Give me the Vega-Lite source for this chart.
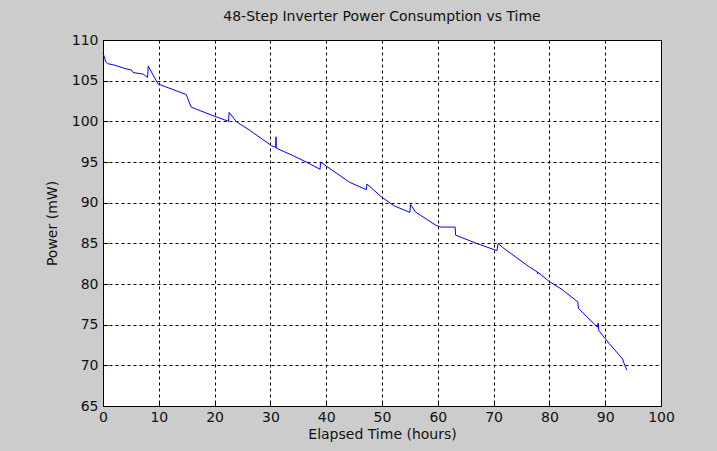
{
  "$schema": "https://vega.github.io/schema/vega-lite/v6.json",
  "width": 558,
  "height": 366,
  "autosize": "none",
  "padding": {"left": 103, "top": 40, "right": 56, "bottom": 45},
  "background": "#cccccc",
  "view": {"fill": "white", "stroke": "black", "strokeWidth": 1},
  "title": {
    "text": "48-Step Inverter Power Consumption vs Time",
    "font": "DejaVu Sans",
    "fontSize": 14,
    "fontWeight": "normal",
    "color": "#111111",
    "offset": 9
  },
  "data": {
    "values": [
      {"t": 0, "p": 108.4},
      {"t": 0.5, "p": 107.3},
      {"t": 0.8, "p": 107.1},
      {"t": 2.1, "p": 106.9},
      {"t": 3.9, "p": 106.5},
      {"t": 5.1, "p": 106.3},
      {"t": 5.4, "p": 106.0},
      {"t": 7.2, "p": 105.8},
      {"t": 8.0, "p": 105.4},
      {"t": 8.1, "p": 106.8},
      {"t": 9.85, "p": 104.6},
      {"t": 14.9, "p": 103.3},
      {"t": 15.8, "p": 101.75},
      {"t": 16.7, "p": 101.5},
      {"t": 19.7, "p": 100.7},
      {"t": 22.5, "p": 100.0},
      {"t": 22.6, "p": 101.1},
      {"t": 23.9, "p": 99.95},
      {"t": 26.3, "p": 98.9},
      {"t": 30.2, "p": 97.0},
      {"t": 30.95, "p": 96.8},
      {"t": 31.0, "p": 98.1},
      {"t": 31.05, "p": 96.7},
      {"t": 34.0, "p": 95.8},
      {"t": 36.7, "p": 94.9},
      {"t": 38.9, "p": 94.1},
      {"t": 39.0, "p": 95.0},
      {"t": 39.8, "p": 94.6},
      {"t": 44.2, "p": 92.5},
      {"t": 47.2, "p": 91.6},
      {"t": 47.3, "p": 92.3},
      {"t": 49.9, "p": 90.7},
      {"t": 52.2, "p": 89.6},
      {"t": 55.0, "p": 88.8},
      {"t": 55.1, "p": 89.8},
      {"t": 56.0, "p": 88.85},
      {"t": 59.7, "p": 87.2},
      {"t": 60.5, "p": 87.0},
      {"t": 63.1, "p": 87.0},
      {"t": 63.2, "p": 86.0},
      {"t": 66.9, "p": 85.0},
      {"t": 70.6, "p": 84.1},
      {"t": 70.8, "p": 85.0},
      {"t": 71.6, "p": 84.5},
      {"t": 76.4, "p": 82.1},
      {"t": 77.8, "p": 81.5},
      {"t": 77.9, "p": 81.25},
      {"t": 78.0, "p": 81.4},
      {"t": 80.0, "p": 80.3},
      {"t": 82.1, "p": 79.4},
      {"t": 85.1, "p": 77.8},
      {"t": 85.2, "p": 77.0},
      {"t": 88.6, "p": 74.7},
      {"t": 88.75, "p": 75.2},
      {"t": 88.85, "p": 74.3},
      {"t": 89.5, "p": 73.7},
      {"t": 90.7, "p": 72.7},
      {"t": 93.1, "p": 70.8},
      {"t": 93.4, "p": 70.2},
      {"t": 93.9, "p": 69.4}
    ]
  },
  "mark": {"type": "line", "color": "#0000ff", "strokeWidth": 1},
  "encoding": {
    "x": {
      "field": "t",
      "type": "quantitative",
      "scale": {"domain": [0, 100], "nice": false, "zero": false},
      "axis": {
        "title": "Elapsed Time (hours)",
        "values": [0, 10, 20, 30, 40, 50, 60, 70, 80, 90, 100],
        "domain": false,
        "grid": true,
        "gridColor": "#000000",
        "gridDash": [3, 3],
        "gridOpacity": 1,
        "ticks": true,
        "tickSize": -5,
        "tickColor": "black",
        "labelFlush": false,
        "labelOverlap": false,
        "labelFont": "DejaVu Sans",
        "labelFontSize": 14,
        "labelColor": "#111111",
        "labelPadding": 9,
        "titleFont": "DejaVu Sans",
        "titleFontSize": 14,
        "titleFontWeight": "normal",
        "titleColor": "#111111",
        "titlePadding": 3
      }
    },
    "y": {
      "field": "p",
      "type": "quantitative",
      "scale": {"domain": [65, 110], "nice": false, "zero": false},
      "axis": {
        "title": "Power (mW)",
        "values": [65, 70, 75, 80, 85, 90, 95, 100, 105, 110],
        "domain": false,
        "grid": true,
        "gridColor": "#000000",
        "gridDash": [3, 3],
        "gridOpacity": 1,
        "ticks": true,
        "tickSize": -5,
        "tickColor": "black",
        "labelFlush": false,
        "labelOverlap": false,
        "labelFont": "DejaVu Sans",
        "labelFontSize": 14,
        "labelColor": "#111111",
        "labelPadding": 10,
        "titleFont": "DejaVu Sans",
        "titleFontSize": 14,
        "titleFontWeight": "normal",
        "titleColor": "#111111",
        "titlePadding": 12
      }
    }
  }
}
